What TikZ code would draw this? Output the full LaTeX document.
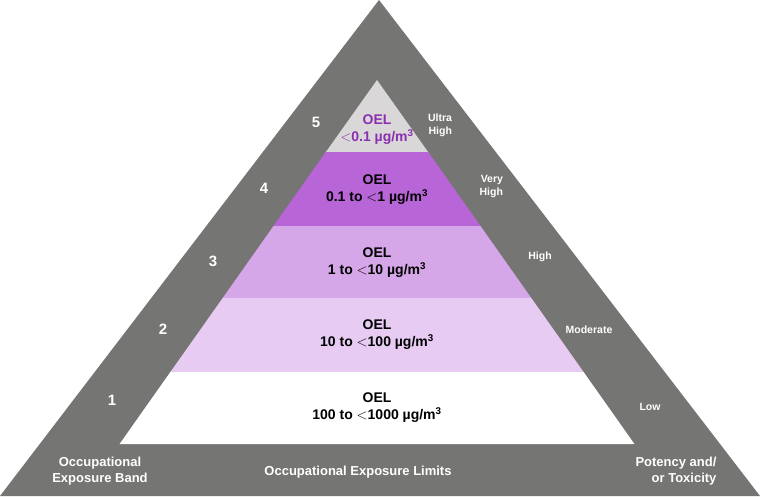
\documentclass[tikz,border=0pt]{standalone}
\usepackage{fontspec}
\setmainfont{Liberation Sans}
\definecolor{gry}{HTML}{757573}
\definecolor{b5}{HTML}{D9D7D7}
\definecolor{b4}{HTML}{B865D8}
\definecolor{b3}{HTML}{D5A6E8}
\definecolor{b2}{HTML}{E7CBF3}
\definecolor{pt}{HTML}{8A2FB0}
\begin{document}
\begin{tikzpicture}[x=1pt,y=-1pt,
  oel/.style={font=\bfseries\fontsize{14}{17}\selectfont,align=center,text=black},
  num/.style={font=\bfseries\fontsize{15}{18}\selectfont,text=white},
  side/.style={font=\bfseries\fontsize{10.5}{13}\selectfont,text=white,align=center},
  bot/.style={font=\bfseries\fontsize{13}{15.5}\selectfont,text=white,align=center}]
\useasboundingbox (0,0) rectangle (760,496);
\fill[white] (0,0) rectangle (760,496);
\fill[gry] (379,0) -- (760,496) -- (0,496) -- cycle;
% bands: x = 377 +- 0.706*(y-80)
\fill[b5] (377,80) -- (428.8,153) -- (325.2,153) -- cycle;
\fill[b4] (325.8,152) -- (428.2,152) -- (480.5,226) -- (273.5,226) -- cycle;
\fill[b3] (273.5,226) -- (480.5,226) -- (531.3,298) -- (222.7,298) -- cycle;
\fill[b2] (222.7,298) -- (531.3,298) -- (583.6,372) -- (170.4,372) -- cycle;
\fill[white] (170.4,372) -- (583.6,372) -- (634.4,444) -- (119.6,444) -- cycle;
\node[oel,text=pt] (t5) at (377,130) {OEL\\$<$0.1 µg/m\textsuperscript{3}};
\node[oel] (t4) at (377,190) {OEL\\0.1 to $<$1 µg/m\textsuperscript{3}};
\node[oel] (t3) at (377,263) {OEL\\1 to $<$10 µg/m\textsuperscript{3}};
\node[oel] (t2) at (377,335) {OEL\\10 to $<$100 µg/m\textsuperscript{3}};
\node[oel] (t1) at (377,408) {OEL\\100 to $<$1000 µg/m\textsuperscript{3}};
\node[num] (n5) at (316,122) {5};
\node[num] (n4) at (264,188) {4};
\node[num] (n3) at (213,261) {3};
\node[num] (n2) at (163,329) {2};
\node[num] (n1) at (112,400) {1};
\node[side,align=right] (s5) at (434,125) {Ultra\\\hspace*{1.2em}High};
\node[side,align=right] (s4) at (485,186) {Very\\\hspace*{1.2em}High};
\node[side] (s3) at (540,257) {High};
\node[side] (s2) at (589,330) {Moderate};
\node[side] (s1) at (650,407) {Low};
\node[bot] (b1) at (100,471) {Occupational\\Exposure Band};
\node[bot] (b2) at (358,472) {Occupational Exposure Limits};
\node[bot,align=right] (b3) at (676,471) {Potency and/\\or Toxicity};
\end{tikzpicture}
\end{document}
